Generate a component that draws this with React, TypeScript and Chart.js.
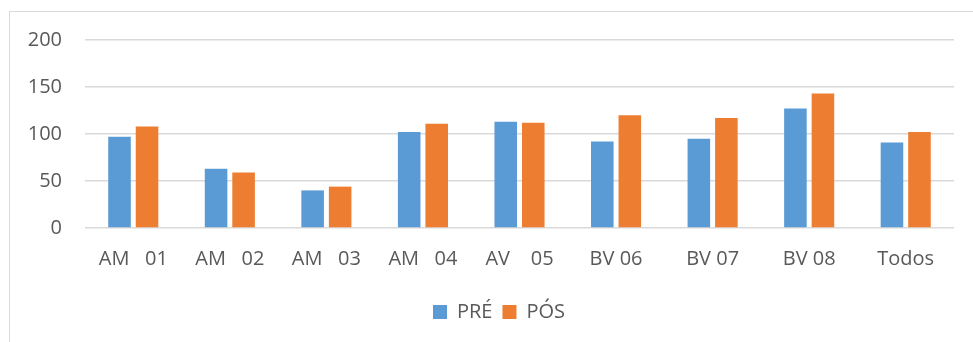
import React, { useEffect, useRef } from "react";
import { Chart, registerables } from "chart.js";

Chart.register(...registerables);

// Categories and series values
const categories = [
  "AM   01",
  "AM   02",
  "AM   03",
  "AM   04",
  "AV    05",
  "BV 06",
  "BV 07",
  "BV 08",
  "Todos",
];
const preValues = [97, 63, 40, 102, 113, 92, 95, 127, 91];
const posValues = [108, 59, 44, 111, 112, 120, 117, 143, 102];
const seriesNames = ["PRÉ", "PÓS"];
const yTicks = [0, 50, 100, 150, 200];

const FONT = "'Open Sans', sans-serif";
const TEXT = "#595959";
const GRID = "#d9d9d9";

// Nudges the legend sideways so it sits centred under the plot rather than the canvas
const legendShift = {
  id: "legendShift",
  afterLayout(chart: any) {
    const lg = chart.legend;
    if (!lg) return;
    lg.left += 10;
    lg.right += 10;
  },
};

export default function App() {
  const canvasRef = useRef<HTMLCanvasElement | null>(null);

  useEffect(() => {
    const canvas = canvasRef.current;
    if (!canvas) return;
    const chart = new Chart(canvas, {
      type: "bar",
      data: {
        labels: categories,
        datasets: [
          {
            label: seriesNames[0],
            data: preValues,
            backgroundColor: "#5B9BD5",
            categoryPercentage: 0.57,
            barPercentage: 0.82,
          },
          {
            label: seriesNames[1],
            data: posValues,
            backgroundColor: "#ED7D31",
            categoryPercentage: 0.57,
            barPercentage: 0.82,
          },
        ],
      },
      plugins: [legendShift],
      options: {
        responsive: false,
        animation: false,
        layout: { padding: { left: 14, right: 19, top: 28, bottom: 10 } },
        plugins: {
          tooltip: { enabled: false },
          legend: {
            position: "bottom",
            labels: {
              boxWidth: 14,
              boxHeight: 14,
              padding: 10,
              color: TEXT,
              font: { family: FONT, size: 20 },
            },
          },
        },
        scales: {
          x: {
            grid: { display: false, drawTicks: false },
            border: { display: false },
            ticks: {
              color: TEXT,
              font: { family: FONT, size: 20 },
              padding: 19,
              maxRotation: 0,
              autoSkip: false,
            },
            afterFit: (scale: any) => {
              scale.height = 64;
              scale.paddingLeft = 0;
              scale.paddingRight = 0;
            },
          },
          y: {
            min: 0,
            max: 200,
            afterBuildTicks: (scale: any) => {
              scale.ticks = yTicks.map((v) => ({ value: v }));
            },
            grid: { color: GRID, lineWidth: 1.5, drawTicks: false },
            border: { display: false },
            ticks: {
              color: TEXT,
              font: { family: FONT, size: 20 },
              padding: 23,
            },
            afterFit: (scale: any) => {
              scale.width = 61;
              scale.paddingTop = 0;
              scale.paddingBottom = 0;
            },
          },
        },
      },
    });
    return () => chart.destroy();
  }, []);

  return (
    <div
      style={{
        position: "fixed",
        left: 9,
        top: 11,
        right: 0,
        bottom: 0,
        borderTop: `1px solid ${GRID}`,
        borderLeft: `1px solid ${GRID}`,
        background: "#fff",
      }}
    >
      <canvas ref={canvasRef} width={963} height={330} style={{ display: "block" }} />
    </div>
  );
}
